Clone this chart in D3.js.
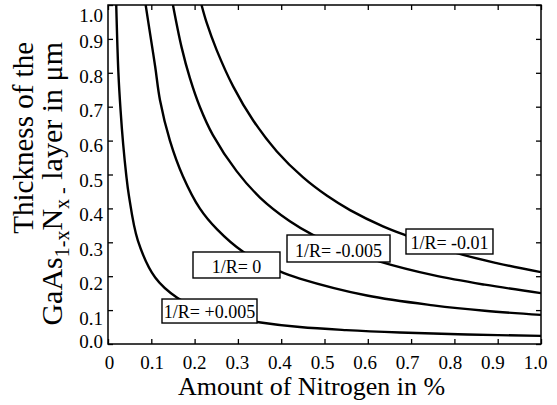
<!DOCTYPE html>
<html>
<head>
<meta charset="utf-8">
<script src="https://cdn.jsdelivr.net/npm/d3@7"></script>
<style>
  body { margin: 0; background: #fff; }
  svg { display: block; }
</style>
</head>
<body>
<div id="chart"></div>
<script>
// curves: x = nitrogen in %, y = thickness in µm
var seriesNames = ["1/R= +0.005", "1/R= 0", "1/R= -0.005", "1/R= -0.01"];

var xP005 = [0.019, 0.024, 0.029, 0.035, 0.042, 0.048, 0.069, 0.109, 0.159, 0.21, 0.27, 0.344, 0.443, 0.55, 0.674, 0.83, 1.0];
var yP005 = [1.0, 0.80, 0.69, 0.59, 0.50, 0.44, 0.305, 0.196, 0.137, 0.105, 0.082, 0.065, 0.050, 0.041, 0.034, 0.028, 0.024];

var xZero = [0.087, 0.097, 0.109, 0.120, 0.143, 0.173, 0.212, 0.252, 0.312, 0.397, 0.443, 0.598, 0.751, 0.87, 1.0];
var yZero = [1.0, 0.917, 0.818, 0.72, 0.60, 0.495, 0.40, 0.338, 0.272, 0.214, 0.193, 0.143, 0.114, 0.098, 0.086];

var xM005 = [0.150, 0.170, 0.189, 0.212, 0.242, 0.297, 0.351, 0.420, 0.473, 0.55, 0.628, 0.751, 0.87, 1.0];
var yM005 = [1.0, 0.875, 0.785, 0.700, 0.617, 0.510, 0.432, 0.362, 0.322, 0.278, 0.243, 0.203, 0.175, 0.150];

var xM01 = [0.216, 0.228, 0.251, 0.289, 0.335, 0.390, 0.450, 0.506, 0.559, 0.635, 0.691, 0.806, 0.90, 1.0];
var yM01 = [1.0, 0.947, 0.867, 0.760, 0.660, 0.568, 0.492, 0.437, 0.395, 0.347, 0.319, 0.268, 0.238, 0.212];

var tickValues = [0, 0.1, 0.2, 0.3, 0.4, 0.5, 0.6, 0.7, 0.8, 0.9, 1.0];

// where the label boxes sit, in data units [x0, yTop, x1, yBottom]
var labelBoxes = [
  [0.1247, 0.1327, 0.3441, 0.0619],
  [0.1963, 0.2714, 0.3972, 0.1947],
  [0.4134, 0.3215, 0.6513, 0.2419],
  [0.6882, 0.3392, 0.8891, 0.2655]
];

var FONT = "Liberation Serif";

var W = 557, H = 405;
var margin = {top: 5, right: 16, bottom: 61, left: 108},
    width = W - margin.left - margin.right,
    height = H - margin.top - margin.bottom;

var svg = d3.select("#chart")
  .append("svg")
    .attr("width", W)
    .attr("height", H)
    .attr("font-family", FONT);

svg.append("rect").attr("width", W).attr("height", H).attr("fill", "#fff");

var g = svg.append("g")
    .attr("transform", "translate(" + margin.left + "," + margin.top + ")");

var x = d3.scaleLinear().domain([0, 1]).range([0, width]);
var y = d3.scaleLinear().domain([0, 1]).range([height, 0]);

// tick labels in the picture are spaced a little differently from the ticks
var xLab = d3.scaleLinear().domain([0, 1]).range([1.5, width - 5.5]);
var yLab = d3.scaleLinear().domain([0, 0.1, 0.9, 1]).range([343, 320, 43.3, 16.7]);

g.append("defs").append("clipPath").attr("id", "plot")
  .append("rect").attr("width", width).attr("height", height);

// ticks on all four sides, pointing inward
g.append("g")
  .attr("transform", "translate(0," + height + ")")
  .call(d3.axisBottom(x).tickValues(tickValues).tickSize(-5).tickFormat(""));
g.append("g")
  .call(d3.axisTop(x).tickValues(tickValues).tickSize(-5).tickFormat(""));
g.append("g")
  .call(d3.axisLeft(y).tickValues(tickValues).tickSize(-5).tickFormat(""));
g.append("g")
  .attr("transform", "translate(" + width + ",0)")
  .call(d3.axisRight(y).tickValues(tickValues).tickSize(-5).tickFormat(""));
g.selectAll(".domain").remove();
g.selectAll(".tick line").attr("stroke", "#000").attr("stroke-width", 1.3);

// tick labels
g.append("g")
  .selectAll("text")
  .data(tickValues)
  .enter().append("text")
    .attr("x", function(d) { return xLab(d); })
    .attr("y", height + 25)
    .attr("text-anchor", "middle")
    .attr("font-family", FONT)
    .attr("font-size", 19)
    .text(function(d) { return d === 0 ? "0" : d3.format(".1f")(d); });

g.append("g")
  .selectAll("text")
  .data(tickValues)
  .enter().append("text")
    .attr("x", -5)
    .attr("y", function(d) { return yLab(d); })
    .attr("text-anchor", "end")
    .attr("font-family", FONT)
    .attr("font-size", 19)
    .text(function(d) { return d3.format(".1f")(d); });

// curves
var line = d3.line()
  .x(function(d) { return x(d[0]); })
  .y(function(d) { return y(d[1]); })
  .curve(d3.curveCatmullRom.alpha(0.5));

var series = [d3.zip(xP005, yP005), d3.zip(xZero, yZero), d3.zip(xM005, yM005), d3.zip(xM01, yM01)];

g.append("g")
  .attr("clip-path", "url(#plot)")
  .selectAll("path")
  .data(series)
  .enter().append("path")
    .attr("d", line)
    .attr("fill", "none")
    .attr("stroke", "#000")
    .attr("stroke-width", 2.4);

// frame
g.append("rect")
  .attr("width", width)
  .attr("height", height)
  .attr("fill", "none")
  .attr("stroke", "#000")
  .attr("stroke-width", 1.5);

// labels on the curves
var lab = g.selectAll(".lab")
  .data(seriesNames)
  .enter().append("g")
    .attr("class", "lab");

lab.append("rect")
  .attr("x", function(d, i) { return x(labelBoxes[i][0]); })
  .attr("y", function(d, i) { return y(labelBoxes[i][1]); })
  .attr("width", function(d, i) { return x(labelBoxes[i][2]) - x(labelBoxes[i][0]); })
  .attr("height", function(d, i) { return y(labelBoxes[i][3]) - y(labelBoxes[i][1]); })
  .attr("fill", "#fff")
  .attr("stroke", "#000")
  .attr("stroke-width", 1.4);

lab.append("text")
  .attr("x", function(d, i) { return (x(labelBoxes[i][0]) + x(labelBoxes[i][2])) / 2; })
  .attr("y", function(d, i) { return y(labelBoxes[i][3]) - 5; })
  .attr("text-anchor", "middle")
  .attr("font-family", FONT)
  .attr("font-size", 18)
  .text(function(d) { return d; });

// axis titles
svg.append("text")
  .attr("x", 311.5)
  .attr("y", 395)
  .attr("text-anchor", "middle")
  .attr("font-family", FONT)
  .attr("font-size", 26)
  .text("Amount of Nitrogen in %");

svg.append("text")
  .attr("transform", "translate(33,42) rotate(-90)")
  .attr("text-anchor", "end")
  .attr("font-family", FONT)
  .attr("font-size", 29)
  .text("Thickness of the");

var t2 = svg.append("text")
  .attr("transform", "translate(62,42) rotate(-90)")
  .attr("text-anchor", "end")
  .attr("font-family", FONT)
  .attr("font-size", 30);
t2.append("tspan").text("GaAs");
t2.append("tspan").attr("dy", 7).attr("font-size", 20).text("1-x");
t2.append("tspan").attr("dy", -7).text("N");
t2.append("tspan").attr("dy", 7).attr("font-size", 20).text("x -");
t2.append("tspan").attr("dy", -7).text(" layer in \u03bcm");
</script>
</body>
</html>
